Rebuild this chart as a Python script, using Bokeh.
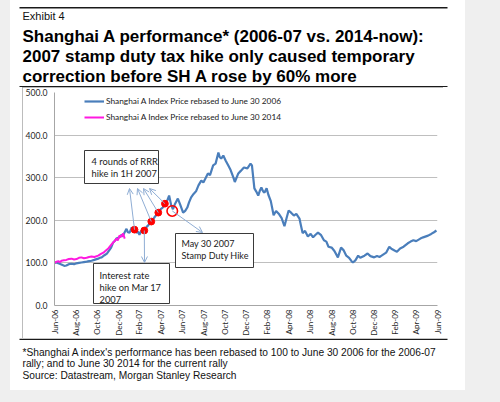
import pandas as pd
from math import pi
from bokeh.plotting import figure
from bokeh.layouts import row, column
from bokeh.models import (Range1d, FixedTicker, DatetimeTickFormatter, PrintfTickFormatter,
                          Label, BoxAnnotation, Arrow, OpenHead, Div, Spacer)
from bokeh.embed import file_html
from bokeh.resources import INLINE

# ---------------- data ----------------
blue_dates = ["2006-06-30","2006-07-06","2006-07-11","2006-07-18","2006-07-23","2006-07-28","2006-08-03","2006-08-10",
 "2006-08-18","2006-08-25","2006-09-01","2006-09-08","2006-09-15","2006-09-22","2006-09-30","2006-10-07","2006-10-14",
 "2006-10-22","2006-11-02","2006-11-07","2006-11-12","2006-11-20","2006-11-27","2006-12-04","2006-12-09","2006-12-15",
 "2006-12-20","2006-12-24","2007-01-02","2007-01-08","2007-01-12","2007-01-15","2007-01-22","2007-01-26","2007-01-31",
 "2007-02-06","2007-02-14","2007-02-20","2007-02-25","2007-02-28","2007-03-06","2007-03-14","2007-03-20","2007-03-25",
 "2007-04-03","2007-04-08","2007-04-12","2007-04-18","2007-04-23","2007-04-30","2007-05-06","2007-05-12","2007-05-18",
 "2007-05-24","2007-05-30","2007-06-04","2007-06-09","2007-06-18","2007-06-25","2007-07-03","2007-07-09","2007-07-15",
 "2007-07-20","2007-07-26","2007-08-02","2007-08-09","2007-08-16","2007-08-24","2007-08-30","2007-09-06","2007-09-12",
 "2007-09-18","2007-09-27","2007-10-04","2007-10-12","2007-10-16","2007-10-20","2007-10-26","2007-11-02","2007-11-09",
 "2007-11-16","2007-11-24","2007-11-28","2007-12-08","2007-12-15","2007-12-24","2008-01-03","2008-01-12","2008-01-16",
 "2008-01-23","2008-01-28","2008-02-03","2008-02-08","2008-02-12","2008-02-17","2008-02-21","2008-02-27","2008-03-03",
 "2008-03-10","2008-03-18","2008-03-25","2008-04-03","2008-04-10","2008-04-18","2008-04-24","2008-04-30","2008-05-07",
 "2008-05-15","2008-05-22","2008-05-31","2008-06-05","2008-06-09","2008-06-16","2008-06-24","2008-07-02","2008-07-09",
 "2008-07-16","2008-07-23","2008-08-01","2008-08-09","2008-08-16","2008-08-22","2008-08-31","2008-09-08","2008-09-18",
 "2008-09-27","2008-10-04","2008-10-12","2008-10-20","2008-10-27","2008-10-31","2008-11-07","2008-11-15","2008-11-21",
 "2008-12-03","2008-12-12","2008-12-20","2008-12-31","2009-01-08","2009-01-15","2009-01-21","2009-02-03","2009-02-12",
 "2009-02-18","2009-02-27","2009-03-06","2009-03-15","2009-03-25","2009-04-06","2009-04-14","2009-04-22","2009-04-30",
 "2009-05-12","2009-05-20","2009-06-03","2009-06-12","2009-06-20","2009-06-27"]
blue_vals = [100,101,99,97,95,93,94,97,
 98,97,99,100,101,102,103,104,105,
 107,110,112,113,118,122,130,136,148,
 152,157,160,166,162,169,180,172,171,
 183,178,171,173,166,176,176,184,188,
 197,202,207,213,218,226,230,239,245,
 258,235,226,237,251,236,218,222,230,
 242,254,262,268,282,293,289,300,310,
 306,329,333,359,348,345,352,340,329,
 318,300,290,310,316,324,322,333,329,
 275,268,258,270,277,268,265,275,260,
 245,212,222,214,205,186,205,223,218,
 211,215,204,185,170,175,162,168,160,
 166,171,165,153,150,138,136,128,113,
 136,130,117,112,104,101,106,117,112,
 117,122,116,113,116,114,117,124,138,
 133,129,126,134,138,146,150,153,151,
 157,160,164,168,172,176]

pink_dates = ["2006-06-30","2006-07-06","2006-07-11","2006-07-16","2006-07-20","2006-07-27","2006-08-03","2006-08-10",
 "2006-08-18","2006-08-25","2006-09-01","2006-09-08","2006-09-15","2006-09-22","2006-09-30","2006-10-07","2006-10-14",
 "2006-10-22","2006-11-02","2006-11-10","2006-11-17","2006-11-24","2006-12-01","2006-12-08","2006-12-15","2006-12-20",
 "2006-12-24","2006-12-28","2007-01-02","2007-01-07","2007-01-12","2007-01-17"]
pink_vals = [100,103,104,102,105,106,107,109,
 110,108,109,112,113,111,112,114,115,
 114,117,121,124,129,134,141,148,152,
 157,153,164,161,169,157]

rrr_dates = ["2007-02-14", "2007-04-03", "2007-04-23", "2007-05-12"]
rrr_vals = [178, 197, 218, 239]
rate_dates = ["2007-03-14"]
rate_vals = [176]
stamp_dates = ["2007-06-02"]
stamp_vals = [222]

tick_dates = ["2006-06-30","2006-08-31","2006-10-31","2006-12-31","2007-02-28","2007-04-30","2007-06-30",
 "2007-08-31","2007-10-31","2007-12-31","2008-02-29","2008-04-30","2008-06-30","2008-08-31","2008-10-31",
 "2008-12-31","2009-02-28","2009-04-30","2009-06-30"]
y_ticks = [0, 100, 200, 300, 400, 500]

legend_labels = ["Shanghai A Index Price rebased to June 30 2006",
                 "Shanghai A Index Price rebased to June 30 2014"]
exhibit = "Exhibit 4"
title_lines = ["Shanghai A performance* (2006-07 vs. 2014-now):",
               "2007 stamp duty tax hike only caused temporary",
               "correction before SH A rose by 60% more"]
foot_lines = ["*Shanghai A index's performance has been rebased to 100 to June 30 2006 for the 2006-07",
              "rally; and to June 30 2014 for the current rally",
              "Source: Datastream, Morgan Stanley Research"]

# ---------------- style / layout constants ----------------
GRAY_BG = "#efefef"
BLUE = "#4a7ebb"
PINK = "#ff19e0"
ARROW = "#8fadd4"
CH_FONT = "Lato"
DOC_FONT = "Liberation Sans"
PANEL_L, PANEL_R = 10, 465          # white page panel (page px)
BOX_L, BOX_R, BOX_T, BOX_B = 22, 443, 87, 338   # chart box
FL, FR, FT, FB = 53, 437, 92, 305   # plot frame

def ms(d):
    return pd.Timestamp(d).value / 1e6


def blank_fig(w, h):
    f = figure(width=w, height=h, x_range=Range1d(0, 1), y_range=Range1d(0, 1),
               output_backend="svg", toolbar_location=None,
               x_axis_location=None, y_axis_location=None, margin=0,
               min_border=0, min_border_left=0, min_border_right=0,
               min_border_top=0, min_border_bottom=0)
    f.grid.visible = False
    f.outline_line_color = None
    f.border_fill_color = "white"
    f.background_fill_color = "white"
    return f


def add_text(f, x, y, s, font, size, style="normal", color="#1a1a1a"):
    f.add_layout(Label(x=x, y=y, x_units="screen", y_units="screen", text=s,
                       text_font=font, text_font_size=size, text_font_style=style,
                       text_color=color, text_baseline="alphabetic", text_align="left"))


def add_rect(f, l, r, t, b, fill=None, line=None):
    f.add_layout(BoxAnnotation(left=l, right=r, top=t, bottom=b,
                               left_units="screen", right_units="screen",
                               top_units="screen", bottom_units="screen",
                               fill_color=fill if fill else "white", fill_alpha=1 if fill else 0,
                               line_color=line if line else "black", line_alpha=1 if line else 0,
                               line_width=1))

# ---------- title block (page y 0..87) ----------
TW, TH = PANEL_R - PANEL_L, BOX_T
ft = blank_fig(TW, TH)
tx = lambda X: X - PANEL_L
ty = lambda Y: TH - Y
add_rect(ft, tx(19), tx(447), ty(6.6), ty(8.0), fill="#1a1a1a")
add_rect(ft, tx(19), tx(447), ty(85.4), ty(86.9), fill="#1a1a1a")
add_text(ft, tx(22), ty(15.5), exhibit, DOC_FONT, "11px", color="#111111")
for i, s in enumerate(title_lines):
    add_text(ft, tx(22), ty(35.6 + 20 * i), s, DOC_FONT, "17px", style="bold", color="#000000")

# ---------- footnote block (page y 338..390) ----------
FH = 390 - BOX_B
ff = blank_fig(TW, FH)
fy = lambda Y: 390 - Y
add_rect(ff, tx(19), tx(447), fy(338.0), fy(339.5), fill="#1a1a1a")
for Y, s in zip((352, 363.2, 374.7), foot_lines):
    add_text(ff, tx(22), fy(Y), s, DOC_FONT, "10.2px", color="#111111")

# ---------- chart ----------
CW, CH = BOX_R - BOX_L, BOX_B - BOX_T
p = figure(width=CW, height=CH, x_axis_type="datetime",
           x_range=Range1d(ms("2006-06-30"), ms("2009-06-30")), y_range=Range1d(0, 500),
           output_backend="svg", toolbar_location=None, margin=0,
           min_border_left=FL - BOX_L, min_border_right=BOX_R - FR,
           min_border_top=FT - BOX_T, min_border_bottom=BOX_B - FB,
           styles={"outline": "1px solid #a6a6a6", "outline-offset": "-1px"})
p.border_fill_color = "white"
p.background_fill_color = "white"
p.outline_line_color = None

sx = lambda X: X - FL
sy = lambda Y: FB - Y

p.xaxis.ticker = FixedTicker(ticks=[ms(d) for d in tick_dates])
fmt = "%b-%y"
p.xaxis.formatter = DatetimeTickFormatter(milliseconds=fmt, seconds=fmt, minsec=fmt, minutes=fmt, hourmin=fmt,
                                          hours=fmt, days=fmt, months=fmt, years=fmt)
p.xaxis.major_label_orientation = pi / 2
p.yaxis.ticker = FixedTicker(ticks=y_ticks)
p.yaxis.formatter = PrintfTickFormatter(format="%.1f")
for ax in (p.xaxis, p.yaxis):
    ax.axis_line_color = "#a6a6a6"
    ax.major_tick_line_color = None
    ax.minor_tick_line_color = None
    ax.major_tick_out = 0
    ax.major_tick_in = 0
    ax.minor_tick_out = 0
    ax.minor_tick_in = 0
    ax.major_label_text_font = CH_FONT
    ax.major_label_text_color = "#1f1f1f"
p.xaxis.major_label_text_font_size = "8px"
p.xaxis.major_label_standoff = 4
p.yaxis.major_label_text_font_size = "8.6px"
p.yaxis.major_label_standoff = 7
p.xgrid.visible = False
p.ygrid.ticker = FixedTicker(ticks=y_ticks)
p.ygrid.grid_line_color = "#bfbfbf"

p.line(pd.to_datetime(blue_dates), blue_vals, line_color=BLUE, line_width=2.2, legend_label=legend_labels[0])
p.line(pd.to_datetime(pink_dates), pink_vals, line_color=PINK, line_width=2, legend_label=legend_labels[1])


def arrow(d, v, X, Y):
    p.add_layout(Arrow(x_start=ms(d), y_start=v, x_end=sx(X), y_end=sy(Y),
                       start_units="data", end_units="screen",
                       line_color=ARROW, line_width=1,
                       end=OpenHead(size=6, line_color=ARROW, line_width=1)))

for d, v, X in zip(rrr_dates, rrr_vals, [128, 136, 142, 148]):
    arrow(d, v, X, 188)
arrow(rate_dates[0], rate_vals[0], 143, 262)
arrow(stamp_dates[0], stamp_vals[0], 201, 232)

p.scatter(pd.to_datetime(rrr_dates + rate_dates), rrr_vals + rate_vals, size=6.8,
          fill_color="#ff0000", line_color="#ff0000")
p.scatter(pd.to_datetime(stamp_dates), stamp_vals, size=10.5, fill_color=None,
          line_color="#ff0000", line_width=1.6)

lg = p.legend[0]
lg.location = (30, 180)
lg.orientation = "vertical"
lg.padding = 0
lg.margin = 0
lg.spacing = 0
lg.glyph_width = 20
lg.glyph_height = 16
lg.label_height = 16
lg.label_standoff = 2
lg.border_line_alpha = 0
lg.background_fill_alpha = 0
lg.label_text_font = CH_FONT
lg.label_text_font_size = "8.3px"
lg.label_text_color = "#1a1a1a"

def box(l, t, r, b):
    add_rect(p, sx(l), sx(r), sy(t), sy(b), fill="white", line="#3a3a3a")

box(83, 150, 157, 183)
add_text(p, sx(90), sy(160.5), "4 rounds of RRR", CH_FONT, "9.3px")
add_text(p, sx(90), sy(172.5), "hike in 1H 2007", CH_FONT, "9.3px")
box(174, 233, 252, 267)
add_text(p, sx(180), sy(243), "May 30 2007", CH_FONT, "9px")
add_text(p, sx(180), sy(255), "Stamp Duty Hike", CH_FONT, "9px")
box(92, 263, 168, 303)
add_text(p, sx(98), sy(275), "Interest rate", CH_FONT, "9.3px")
add_text(p, sx(98), sy(287), "hike on Mar 17", CH_FONT, "9.3px")
add_text(p, sx(98), sy(298.5), "2007", CH_FONT, "9.3px")

# ---------- page composition ----------
def gray(w, h):
    return Div(text="", width=w, height=h, margin=0, styles={"background-color": GRAY_BG})

chart_row = row(Spacer(width=BOX_L - PANEL_L, height=CH, margin=0), p,
                Spacer(width=PANEL_R - BOX_R, height=CH, margin=0), spacing=0, margin=0)
middle = column(ft, chart_row, ff, gray(TW, 402 - 390), spacing=0, margin=0)
page = row(gray(PANEL_L, 402), middle, gray(500 - PANEL_R, 402), spacing=0, margin=0)

open("out.html", "w").write(file_html(page, INLINE))
